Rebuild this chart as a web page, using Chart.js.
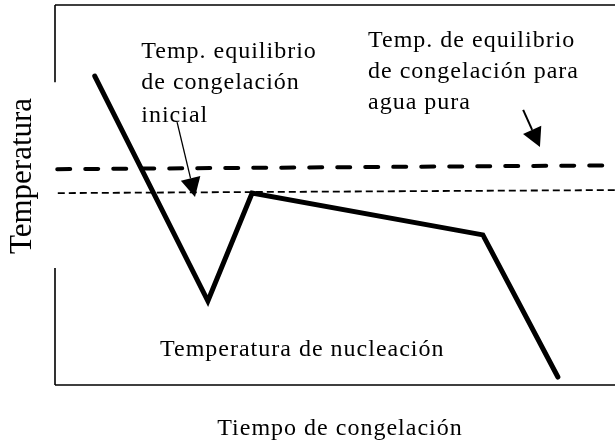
<!DOCTYPE html>
<html>
<head>
<meta charset="utf-8">
<script src="https://cdn.jsdelivr.net/npm/chart.js@4"></script>
<style>
  html, body { margin: 0; padding: 0; background: #fff; }
  #wrap { width: 615px; height: 443px; }
</style>
</head>
<body>
<div id="wrap"><canvas id="chart" width="615" height="443"></canvas></div>
<script>
// Freezing curve (arbitrary units: time 0-100, temperature 0-100)
const curveTime = [7.1, 27.3, 35.2, 76.4, 89.8];
const curveTemp = [81.3, 22.1, 50.5, 39.5, 2.1];

// Equilibrium lines
const pureWaterTime = [0.4, 100];
const pureWaterTemp = [56.8, 57.8];
const initialTime = [0.5, 100];
const initialTemp = [50.5, 51.3];

// Annotation texts: [x, baseline y] in data units
const labelInitial = ['Temp. equilibrio', 'de congelación', 'inicial'];
const labelInitialPos = [[15.4, 86.1], [15.4, 77.9], [15.4, 69.2]];
const labelPure = ['Temp. de equilibrio', 'de congelación para', 'agua pura'];
const labelPurePos = [[55.9, 88.9], [55.9, 80.8], [55.9, 72.6]];
const labelNucleation = 'Temperatura de nucleación';
const labelNucleationPos = [18.75, 7.6];

// Arrows: [tailX, tailY, tipX, tipY]
const arrows = [
    [21.8, 69.2, 25.0, 49.5],
    [83.6, 72.4, 86.6, 62.6]
];

const xTitle = 'Tiempo de congelación';
const yTitle = 'Temperatura';

const toPoints = (xs, ys) => xs.map((x, i) => ({ x: x, y: ys[i] }));

const FONT = '"Liberation Serif", "Times New Roman", serif';

// Frame, titles, labels and arrows
const decorations = {
    id: 'decorations',
    afterDatasetsDraw(chart) {
        const { ctx, chartArea: a, scales: { x, y } } = chart;
        ctx.save();

        // frame: top, bottom, and left side broken around the axis title
        ctx.strokeStyle = '#000';
        ctx.lineWidth = 1.6;
        ctx.beginPath();
        ctx.moveTo(a.left, a.top); ctx.lineTo(a.right + 2, a.top);
        ctx.moveTo(a.left, a.bottom); ctx.lineTo(a.right + 2, a.bottom);
        ctx.moveTo(a.left, a.top); ctx.lineTo(a.left, y.getPixelForValue(79.7));
        ctx.moveTo(a.left, y.getPixelForValue(30.8)); ctx.lineTo(a.left, a.bottom);
        ctx.stroke();

        // annotation texts
        ctx.fillStyle = '#000';
        ctx.font = '24px ' + FONT;
        ctx.letterSpacing = '1px';
        ctx.textAlign = 'left';
        ctx.textBaseline = 'alphabetic';
        labelInitial.forEach((t, i) => {
            ctx.fillText(t, x.getPixelForValue(labelInitialPos[i][0]), y.getPixelForValue(labelInitialPos[i][1]));
        });
        labelPure.forEach((t, i) => {
            ctx.fillText(t, x.getPixelForValue(labelPurePos[i][0]), y.getPixelForValue(labelPurePos[i][1]));
        });
        ctx.fillText(labelNucleation, x.getPixelForValue(labelNucleationPos[0]), y.getPixelForValue(labelNucleationPos[1]));

        // x title
        ctx.textAlign = 'center';
        ctx.fillText(xTitle, 340, a.bottom + 50);

        // y title
        ctx.letterSpacing = '0px';
        ctx.font = '31px ' + FONT;
        ctx.translate(31, 176);
        ctx.rotate(-Math.PI / 2);
        ctx.fillText(yTitle, 0, 0);
        ctx.restore();

        // arrows
        ctx.save();
        ctx.strokeStyle = '#000';
        ctx.fillStyle = '#000';
        arrows.forEach(([x0, y0, x1, y1], i) => {
            const px0 = x.getPixelForValue(x0), py0 = y.getPixelForValue(y0);
            const px1 = x.getPixelForValue(x1), py1 = y.getPixelForValue(y1);
            const ang = Math.atan2(py1 - py0, px1 - px0);
            const len = 19, half = 10;
            const bx = px1 - len * Math.cos(ang), by = py1 - len * Math.sin(ang);
            ctx.lineWidth = i === 0 ? 1.3 : 2;
            ctx.beginPath();
            ctx.moveTo(px0, py0);
            ctx.lineTo(bx, by);
            ctx.stroke();
            ctx.beginPath();
            ctx.moveTo(px1, py1);
            ctx.lineTo(bx + half * Math.sin(ang), by - half * Math.cos(ang));
            ctx.lineTo(bx - half * Math.sin(ang), by + half * Math.cos(ang));
            ctx.closePath();
            ctx.fill();
        });
        ctx.restore();
    }
};

new Chart(document.getElementById('chart'), {
    type: 'line',
    data: {
        datasets: [
            {
                label: 'Curva',
                data: toPoints(curveTime, curveTemp),
                borderColor: '#000',
                borderWidth: 5,
                borderCapStyle: 'round',
                borderJoinStyle: 'miter',
                pointRadius: 0,
                tension: 0,
                order: 0
            },
            {
                label: 'Agua pura',
                data: toPoints(pureWaterTime, pureWaterTemp),
                borderColor: '#000',
                borderWidth: 4,
                borderDash: [13, 15],
                borderCapStyle: 'round',
                pointRadius: 0,
                order: 1
            },
            {
                label: 'Inicial',
                data: toPoints(initialTime, initialTemp),
                borderColor: '#000',
                borderWidth: 1.8,
                borderDash: [7, 4],
                pointRadius: 0,
                order: 2
            }
        ]
    },
    options: {
        responsive: false,
        animation: false,
        devicePixelRatio: 1,
        layout: { padding: { left: 55, top: 5, right: 0, bottom: 58 } },
        plugins: {
            legend: { display: false },
            tooltip: { enabled: false }
        },
        scales: {
            x: { type: 'linear', min: 0, max: 100, display: false },
            y: { type: 'linear', min: 0, max: 100, display: false }
        }
    },
    plugins: [decorations]
});
</script>
</body>
</html>
